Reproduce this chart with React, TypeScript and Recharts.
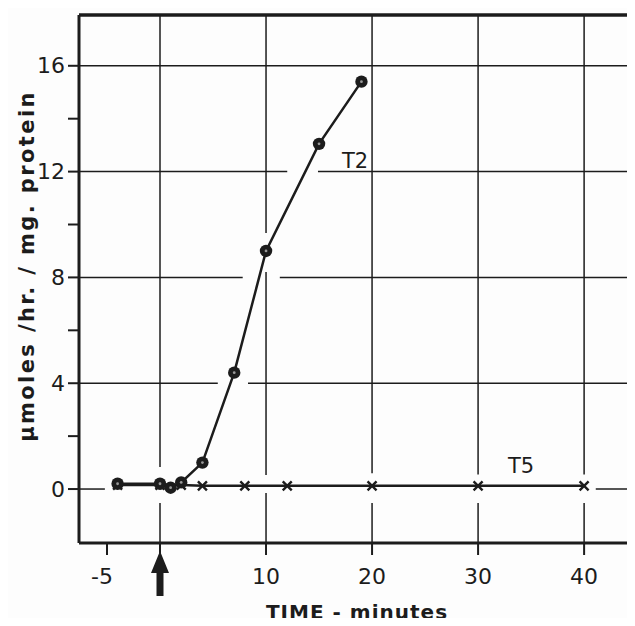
import { LineChart, Line, XAxis, YAxis, ReferenceLine, ReferenceDot } from 'recharts';

// T2: activity rises after the shift at time zero
const t2Time = [-4, 0, 1, 2, 4, 7, 10, 15, 19];
const t2Rate = [0.2, 0.2, 0.05, 0.25, 1.0, 4.4, 9.0, 13.05, 15.4];

// T5: stays flat over the whole run
const t5Time = [-4, 0, 2, 4, 8, 12, 20, 30, 40];
const t5Rate = [0.15, 0.15, 0.15, 0.12, 0.12, 0.12, 0.12, 0.12, 0.12];

const xTicks = [-5, 0, 10, 20, 30, 40];
const yTicks = [0, 2, 4, 6, 8, 10, 12, 14, 16];

const X_MIN = -7.64;
const X_MAX = 44.8;
const Y_MIN = -2.04;
const Y_MAX = 17.92;

// grid rules are broken where the curves pass through them: [value, from, to]
const hRules: [number, number, number][] = [
  [16, X_MIN, X_MAX],
  [12, X_MIN, 12.0],
  [12, 14.9, X_MAX],
  [8, X_MIN, 7.8],
  [8, 11.3, X_MAX],
  [4, X_MIN, 5.45],
  [4, 8.3, X_MAX],
  [0, X_MIN, -5.2],
  [0, 41.1, X_MAX],
];
const vRules: [number, number, number][] = [
  [0, Y_MIN, -0.53],
  [0, 0.83, Y_MAX],
  [10, Y_MIN, -0.15],
  [10, 0.53, 8.2],
  [10, 9.68, Y_MAX],
  [20, Y_MIN, -0.53],
  [20, 0.6, Y_MAX],
  [30, Y_MIN, -0.53],
  [30, 0.55, Y_MAX],
  [40, Y_MIN, -0.53],
  [40, 0.55, Y_MAX],
];

const INK = '#1c1c1c';
const FONT = '"DejaVu Sans", Verdana, sans-serif';

const t2Data = t2Time.map((t, i) => ({ t, rate: t2Rate[i] }));
const t5Data = t5Time.map((t, i) => ({ t, rate: t5Rate[i] }));

function CircleDot({ cx, cy }: { cx?: number; cy?: number }) {
  if (cx == null || cy == null) return null;
  return (
    <g>
      <circle cx={cx} cy={cy} r={6.2} fill={INK} />
      <circle cx={cx} cy={cy} r={1.4} fill="#999" />
    </g>
  );
}

function CrossDot({ cx, cy }: { cx?: number; cy?: number }) {
  if (cx == null || cy == null) return null;
  const s = 4.5;
  return (
    <path
      d={`M${cx - s},${cy - s}L${cx + s},${cy + s}M${cx + s},${cy - s}L${cx - s},${cy + s}`}
      stroke={INK}
      strokeWidth={2.4}
    />
  );
}

function TimeTick({ x, y, payload }: { x?: number; y?: number; payload?: { value: number } }) {
  if (x == null || y == null || !payload) return null;
  const v = payload.value;
  if (v === 0) {
    // heavy arrow marks the moment of the shift
    return (
      <path
        d={`M${x},${y - 4} L${x + 9},${y + 18} L${x + 3.5},${y + 18} L${x + 3.5},${y + 41} L${x - 3.5},${y + 41} L${x - 3.5},${y + 18} L${x - 9},${y + 18} Z`}
        fill={INK}
      />
    );
  }
  return (
    <text
      x={v < 0 ? x + 6 : x}
      y={y + 29}
      textAnchor={v < 0 ? 'end' : 'middle'}
      fontFamily={FONT}
      fontSize={22}
      fill={INK}
    >
      {v}
    </text>
  );
}

function RateTick({ x, y, payload }: { x?: number; y?: number; payload?: { value: number } }) {
  if (x == null || y == null || !payload) return null;
  if (payload.value % 4 !== 0) return null;
  return (
    <text x={x} y={y} textAnchor="end" dominantBaseline="central" fontFamily={FONT} fontSize={22} fill={INK}>
      {payload.value}
    </text>
  );
}

function SeriesLabel({ text }: { text: string }) {
  return ({ viewBox }: { viewBox?: { x: number; y: number } }) =>
    viewBox ? (
      <text x={viewBox.x} y={viewBox.y} textAnchor="middle" fontFamily={FONT} fontSize={21} fill={INK}>
        {text}
      </text>
    ) : null;
}

export default function App() {
  return (
    <div style={{ margin: -8, width: 635, height: 626, overflow: 'hidden', background: '#fdfdfd' }}>
      <LineChart width={635} height={626} margin={{ top: 15, right: 0, bottom: 0, left: 0 }}>
        <XAxis
          type="number"
          dataKey="t"
          domain={[X_MIN, X_MAX]}
          allowDataOverflow
          ticks={xTicks}
          interval={0}
          height={83}
          tickSize={12}
          tickMargin={0}
          axisLine={{ stroke: INK, strokeWidth: 3 }}
          tickLine={{ stroke: INK, strokeWidth: 2 }}
          tick={<TimeTick />}
          label={({ viewBox }: { viewBox?: { x: number; y: number; width: number } }) =>
            viewBox ? (
              <text
                x={viewBox.x + viewBox.width / 2}
                y={619}
                textAnchor="middle"
                fontFamily={FONT}
                fontSize={20}
                fontWeight="bold"
                letterSpacing={1}
                fill={INK}
              >
                TIME - minutes
              </text>
            ) : null
          }
        />
        <YAxis
          type="number"
          domain={[Y_MIN, Y_MAX]}
          allowDataOverflow
          ticks={yTicks}
          interval={0}
          width={79}
          tickSize={11}
          tickMargin={3}
          axisLine={{ stroke: INK, strokeWidth: 3 }}
          tickLine={{ stroke: INK, strokeWidth: 2 }}
          tick={<RateTick />}
          label={() => (
            <text
              x={27}
              y={266}
              transform="rotate(-90, 27, 266)"
              textAnchor="middle"
              dominantBaseline="central"
              fontFamily={FONT}
              fontSize={21}
              fontWeight="bold"
              letterSpacing={2.4}
              fill={INK}
            >
              μmoles /hr. / mg. protein
            </text>
          )}
        />
        {vRules.map(([v, a, b], i) => (
          <ReferenceLine
            key={`v${i}`}
            segment={[{ x: v, y: a }, { x: v, y: b }]}
            stroke={INK}
            strokeWidth={1.5}
          />
        ))}
        {hRules.map(([v, a, b], i) => (
          <ReferenceLine
            key={`h${i}`}
            segment={[{ x: a, y: v }, { x: b, y: v }]}
            stroke={INK}
            strokeWidth={1.5}
          />
        ))}
        <ReferenceLine y={Y_MAX} stroke={INK} strokeWidth={3.5} />
        <Line
          data={t5Data}
          dataKey="rate"
          stroke={INK}
          strokeWidth={2.5}
          dot={<CrossDot />}
          isAnimationActive={false}
        />
        <Line
          data={t2Data}
          dataKey="rate"
          stroke={INK}
          strokeWidth={2.5}
          dot={<CircleDot />}
          isAnimationActive={false}
        />
        <ReferenceDot x={18.4} y={12.15} r={0} label={SeriesLabel({ text: 'T2' })} />
        <ReferenceDot x={34.05} y={0.6} r={0} label={SeriesLabel({ text: 'T5' })} />
      </LineChart>
    </div>
  );
}
